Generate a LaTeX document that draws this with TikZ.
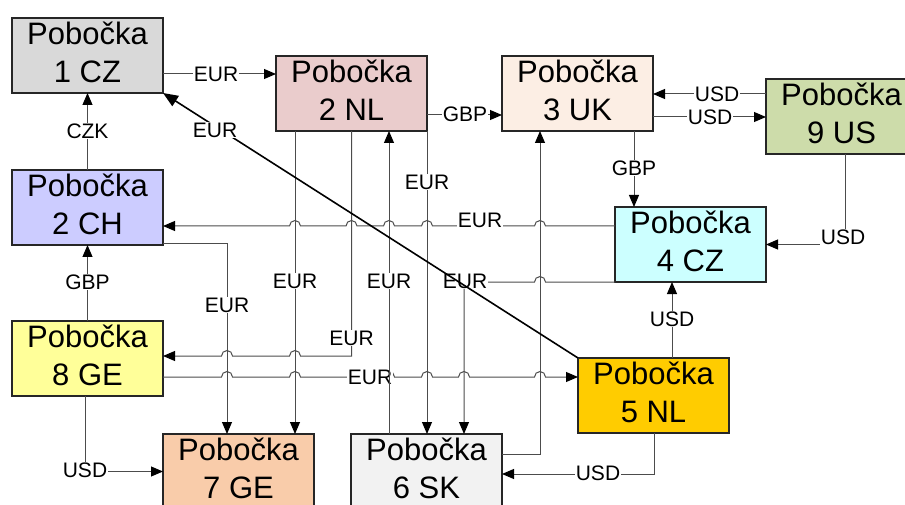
\documentclass[tikz,border=0pt]{standalone}
\usepackage{fontspec}
\setmainfont{Liberation Sans}
\usetikzlibrary{arrows.meta,calc}

\definecolor{cczA}{RGB}{217,217,217}
\definecolor{cnlA}{RGB}{234,204,204}
\definecolor{cuk}{RGB}{252,238,228}
\definecolor{cus}{RGB}{205,220,170}
\definecolor{cch}{RGB}{204,204,255}
\definecolor{cczB}{RGB}{204,255,255}
\definecolor{cgeA}{RGB}{255,255,153}
\definecolor{cnlB}{RGB}{255,204,0}
\definecolor{cgeB}{RGB}{249,204,170}
\definecolor{csk}{RGB}{242,242,242}

% two-line branch caption; the rule gives the lower line some depth
\newcommand{\brtext}[1]{Pobočka\\#1\rule[-5.6pt]{0pt}{5.6pt}}

\begin{document}
\begin{tikzpicture}[x=1pt,y=-1pt,
  branch/.style={rectangle, draw=black!85, line width=1.4pt,
    minimum width=151pt, minimum height=75pt, inner sep=0pt, outer sep=0pt,
    align=center, font=\fontsize{31}{38}\selectfont},
  conn/.style={draw=black!70, line width=1pt,
    -{Triangle[length=12pt,width=10pt,color=black]}},
  diag/.style={draw=black, line width=1.6pt,
    -{Triangle[length=15pt,width=12pt]}},
  lbl/.style={fill=white, inner sep=1pt, font=\fontsize{21}{21}\selectfont},
  hopl/.style={start angle=0, end angle=180, radius=5.5pt},
  hopr/.style={start angle=180, end angle=0, radius=5.5pt},
]
\useasboundingbox (0,0) rectangle (905,505);
\clip (0,0) rectangle (905,505);

% branches
\node[branch, fill=cczA] (n1)   at (87.5,55.5)   {\brtext{1 CZ}};
\node[branch, fill=cnlA] (n2nl) at (351.5,93.5)  {\brtext{2 NL}};
\node[branch, fill=cuk]  (n3uk) at (577.5,93.5)  {\brtext{3 UK}};
\node[branch, fill=cus]  (n9us) at (841.5,116.5) {\brtext{9 US}};
\node[branch, fill=cch]  (n2ch) at (87.5,207.5)  {\brtext{2 CH}};
\node[branch, fill=cczB] (n4cz) at (690.5,244.5) {\brtext{4 CZ}};
\node[branch, fill=cgeA] (n8ge) at (87.5,358.5)  {\brtext{8 GE}};
\node[branch, fill=cnlB] (n5nl) at (653.5,395.5) {\brtext{5 NL}};
\node[branch, fill=cgeB] (n7ge) at (238.5,471.5) {\brtext{7 GE}};
\node[branch, fill=csk]  (n6sk) at (426.5,471.5) {\brtext{6 SK}};

% payments
\draw[conn] ($(n1.east)+(0,18.5)$) -- ($(n2nl.west)+(0,-19.5)$);
\node[lbl] (l1) at (216,74) {EUR};

\draw[conn] (n2ch.north) -- (n1.south);
\node[lbl] (l2) at (87.5,131) {CZK};

\draw[conn] ($(n2nl.east)+(0,21.5)$) -- ($(n3uk.west)+(0,21.5)$);
\node[lbl] (l3) at (465,114) {GBP};

\draw[conn] ($(n9us.west)+(0,-22.5)$) -- ($(n3uk.east)+(0,0.5)$);
\node[lbl] (l4) at (717,94) {USD};

\draw[conn] ($(n3uk.east)+(0,23.5)$) -- ($(n9us.west)+(0,0.5)$);
\node[lbl] (l5) at (710,117) {USD};

\draw[conn] ($(n3uk.south)+(56.5,0)$) -- ($(n4cz.north)+(-56.5,0)$);
\node[lbl] (l6) at (634,168) {GBP};

\draw[conn] ($(n9us.south)+(3.5,0)$) |- (n4cz.east);
\node[lbl] (l7) at (843,237) {USD};

\draw[conn] ($(n5nl.north)+(18.5,0)$) -- ($(n4cz.south)+(-18.5,0)$);
\node[lbl] (l8) at (672,319) {USD};

\draw[conn] ($(n4cz.west)+(0,-18.5)$) -- (545.5,226) arc[hopl]
  -- (432.5,226) arc[hopl] -- (394.5,226) arc[hopl]
  -- (357,226) arc[hopl] -- (300.5,226) arc[hopl]
  -- ($(n2ch.east)+(0,18.5)$);
\node[lbl] (l9) at (480,220) {EUR};

\draw[conn] (n4cz.south west) -- (545.5,282) arc[hopl]
  -- (464,282) -- ($(n6sk.north)+(37.5,0)$);
\node[lbl] (l10) at (465,281) {EUR};

\draw[conn] ($(n6sk.east)+(0,-17.5)$) -| ($(n3uk.south)+(-37.5,0)$);

\draw[conn] ($(n5nl.south)+(0.5,0)$) |- ($(n6sk.east)+(0,2.5)$);
\node[lbl] (l12) at (598,473) {USD};

\draw[conn] ($(n8ge.south)+(-2.5,0)$) |- (n7ge.west);
\node[lbl] (l13) at (85,470) {USD};

\draw[conn] (n8ge.north) -- (n2ch.south);
\node[lbl] (l14) at (87.5,282) {GBP};

\draw[conn] ($(n2nl.south)+(-56.5,0)$) -- ($(n7ge.north)+(56.5,0)$);
\node[lbl] (l17) at (295,281) {EUR};

\draw[conn] ($(n2ch.south east)+(0,-1)$) -| ($(n7ge.north)+(-11.5,0)$);
\node[lbl] (l18) at (227,305) {EUR};

\draw[conn] (n2nl.south) -- (351.5,356) -- (300.5,356) arc[hopl]
  -- (232.5,356) arc[hopl] -- ($(n8ge.east)+(0,-2.5)$);
\node[lbl] (l16) at (351.5,338) {EUR};

\draw[conn] ($(n8ge.east)+(0,18.5)$) -- (221.5,377) arc[hopr]
  -- (289.5,377) arc[hopr] -- (383.5,377) arc[hopr]
  -- (421.5,377) arc[hopr] -- (458.5,377) arc[hopr]
  -- (534.5,377) arc[hopr] -- ($(n5nl.west)+(0,-18.5)$);
\node[lbl] (l15) at (370,377) {EUR};

\draw[conn] (n2nl.south east) -- ($(n6sk.north)+(0.5,0)$);
\node[lbl] (l20) at (427,182) {EUR};

\draw[conn] ($(n6sk.north)+(-37.5,0)$) -- ($(n2nl.south)+(37.5,0)$);
\node[lbl] (l19) at (389,281) {EUR};

\draw[diag] (n5nl.north west) -- (n1.south east);
\node[lbl] (l21) at (215,130) {EUR};
\end{tikzpicture}
\end{document}
